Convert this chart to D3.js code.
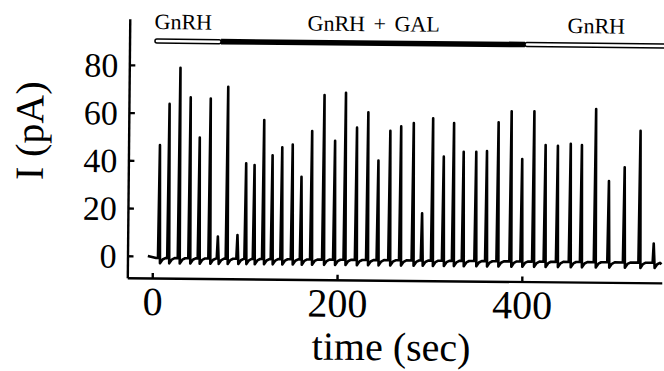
<!DOCTYPE html>
<html>
<head>
<meta charset="utf-8">
<script src="https://cdn.jsdelivr.net/npm/d3@7"></script>
<style>
  html, body { margin: 0; padding: 0; background: #fff; }
  svg { display: block; }
  text { font-family: "Liberation Serif", "Times New Roman", serif; fill: #000; }
</style>
</head>
<body>
<svg id="chart" width="664" height="371"></svg>
<script>
// Peak times (s) and peak amplitudes (pA) of the current spikes
const spikeTimes = [7, 17, 28.4, 39.8, 50, 61.5, 70.6, 80.3, 91.8, 100.5, 109.6, 119.6,
  129, 139.4, 150.7, 160.5, 171.6, 184.6, 196.5, 207.8, 220.1, 232.2, 243.6, 256.2,
  267.9, 281.5, 291.4, 302.4, 314.3, 325.1, 335.8, 349.4, 361, 373.3, 387.3, 399.2,
  411.9, 424.4, 437.7, 451.6, 463.7, 478.7, 493.3, 510.2, 527, 542.4];
const spikePeaks = [46.5, 63.8, 79, 66.6, 49.8, 66.2, 8.4, 71.2, 9.1, 39.2, 38.5, 57.4,
  42.7, 46.1, 47.3, 33.8, 53, 68.1, 49, 69.2, 54.6, 61.1, 40.9, 53.4,
  55.3, 56.8, 19, 58.8, 42.8, 56.9, 44.9, 45, 45.3, 57.4, 62.1, 42.1,
  62.2, 48.1, 47.8, 48.7, 48.2, 63.4, 33.3, 39.1, 54.4, 7.3];
const restLevel = -0.8;      // holding current between spikes (pA)
const undershootLevel = -3;  // after-spike dip (pA)
const traceStart = -5, traceEnd = 551;

// Perfusion phases
const phaseLabels = ["GnRH", "GnRH + GAL", "GnRH"];
const phaseStart = [0.5, 72, 401];
const phaseEnd = [72, 401, 556];
const phaseFilled = [false, true, false];
const phaseLabelAt = [31, 237, 478];

// Axis ticks
const xTicks = [0, 200, 400];
const yTicks = [0, 20, 40, 60, 80];

const svg = d3.select("#chart");
const root = svg.append("g").attr("transform", "rotate(0.55,152,256)");

const x = d3.scaleLinear().domain([-27, 551.5]).range([127.5, 662]);
const y = d3.scaleLinear().domain([-9.2, 99.3]).range([278, 19]);

// Build the recorded trace from the spike list
const trace = [[traceStart, 0], [spikeTimes[0] - 3, restLevel]];
spikeTimes.forEach((t, i) => {
  trace.push([t - 1, restLevel]);
  trace.push([t, spikePeaks[i]]);
  trace.push([t + 1.2, undershootLevel]);
  trace.push([t + 4, restLevel - 0.6]);
  trace.push([t + 7, restLevel]);
});
trace.push([traceEnd, restLevel - 0.6]);

const line = d3.line().x(d => x(d[0])).y(d => y(d[1]));
root.append("path")
  .datum(trace)
  .attr("d", line)
  .attr("fill", "none")
  .attr("stroke", "#000")
  .attr("stroke-width", 2.6)
  .attr("stroke-linejoin", "round");

// Axes
const yAxis = d3.axisLeft(y).tickValues(yTicks).tickSize(-6).tickSizeOuter(0).tickPadding(11);
const xAxis = d3.axisBottom(x).tickValues(xTicks).tickSize(-5).tickSizeOuter(0).tickPadding(9);

const gy = root.append("g").attr("transform", `translate(${x(-27)},0)`).call(yAxis);
gy.selectAll("text").attr("font-size", 34).attr("dy", "0.34em")
  .style("font-family", '"Liberation Serif", serif');
const gx = root.append("g").attr("transform", `translate(0,${y(-9.2)})`).call(xAxis);
gx.selectAll("text").attr("font-size", 40).attr("dy", "0.7em")
  .style("font-family", '"Liberation Serif", serif');
root.selectAll(".domain, .tick line").attr("stroke", "#000").attr("stroke-width", 2.4);

// Axis titles
root.append("text")
  .attr("x", 392).attr("y", 358)
  .attr("text-anchor", "middle").attr("font-size", 40)
  .text("time (sec)");
root.append("text")
  .attr("transform", "translate(42,132) rotate(-90)")
  .attr("text-anchor", "middle").attr("font-size", 40)
  .text("I (pA)");

// Perfusion bar
const barY = 41;
phaseLabels.forEach((lab, i) => {
  const x0 = x(phaseStart[i]), x1 = x(phaseEnd[i]);
  if (phaseFilled[i]) {
    root.append("rect")
      .attr("x", x0).attr("y", barY - 2.8)
      .attr("width", x1 - x0).attr("height", 5.6)
      .attr("fill", "#000");
  } else {
    root.append("rect")
      .attr("x", x0).attr("y", barY - 2)
      .attr("width", x1 - x0).attr("height", 4)
      .attr("rx", 2)
      .attr("fill", "#fff").attr("stroke", "#000").attr("stroke-width", 1.5);
  }
  root.append("text")
    .attr("x", x(phaseLabelAt[i])).attr("y", 29)
    .attr("text-anchor", "middle").attr("font-size", 22)
    .attr("word-spacing", 3)
    .text(lab);
});
</script>
</body>
</html>
